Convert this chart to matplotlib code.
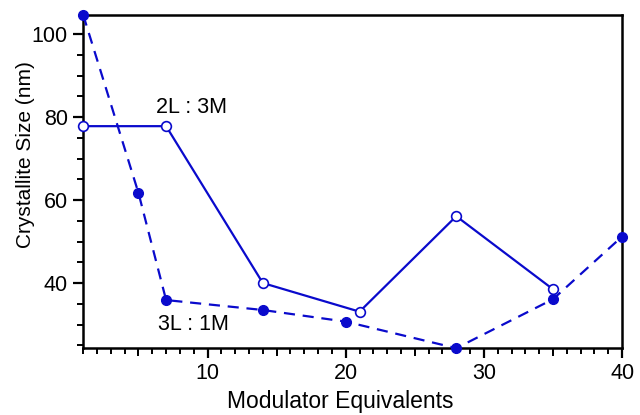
import matplotlib

matplotlib.use("Agg")
import matplotlib.pyplot as plt
from matplotlib.ticker import MultipleLocator

plt.rcParams["font.family"] = ["Liberation Sans", "DejaVu Sans"]

# 2L : 3M series (open circles, solid line)
x_2l3m = [1, 7, 14, 21, 28, 35]
y_2l3m = [77.8, 77.8, 40.0, 33.1, 56.1, 38.5]

# 3L : 1M series (filled circles, dashed line)
x_3l1m = [1, 5, 7, 14, 20, 28, 35, 40]
y_3l1m = [104.6, 61.7, 35.9, 33.5, 30.7, 24.3, 36.1, 51.2]

BLUE = "#0a0acc"

fig = plt.figure(figsize=(6.4, 4.15), dpi=100)
ax = fig.add_axes([0.130, 0.161, 0.842, 0.803])

ax.plot(x_2l3m, y_2l3m, color=BLUE, lw=1.6, marker="o", ms=7,
        mfc="white", mec=BLUE, mew=1.2, clip_on=False, zorder=3)
ax.plot(x_3l1m, y_3l1m, color=BLUE, lw=1.6, ls=(0, (5, 3.5)), marker="o", ms=7,
        mfc=BLUE, mec=BLUE, clip_on=False, zorder=3)

ax.text(6.3, 82.2, "2L : 3M", fontsize=15.5, va="center", ha="left")
ax.text(6.4, 29.9, "3L : 1M", fontsize=15.5, va="center", ha="left")

ax.set_xlim(1, 40)
ax.set_ylim(24.3, 104.6)
ax.xaxis.set_major_locator(MultipleLocator(10))
ax.xaxis.set_minor_locator(MultipleLocator(1))
ax.yaxis.set_major_locator(MultipleLocator(20))
ax.yaxis.set_minor_locator(MultipleLocator(5))
ax.tick_params(which="major", direction="out", length=7, width=1.6,
               labelsize=15.5, pad=4)
ax.tick_params(which="minor", direction="out", length=4, width=1.4)
for sp in ax.spines.values():
    sp.set_linewidth(1.8)

# medium ticks at the fives on x
ax2 = ax.twiny()
ax2.set_xlim(ax.get_xlim())
ax2.xaxis.set_ticks_position("bottom")
ax2.set_xticks([5, 15, 25, 35])
ax2.set_xticklabels([])
ax2.tick_params(direction="out", length=5.5, width=1.4)
for sp in ax2.spines.values():
    sp.set_visible(False)

ax.set_xlabel("Modulator Equivalents", fontsize=16.5)
ax.set_ylabel("Crystallite Size (nm)", fontsize=15)
ax.xaxis.set_label_coords(0.477, -0.125)
ax.yaxis.set_label_coords(-0.09, 0.58)

fig.savefig("out.png", dpi=100)
